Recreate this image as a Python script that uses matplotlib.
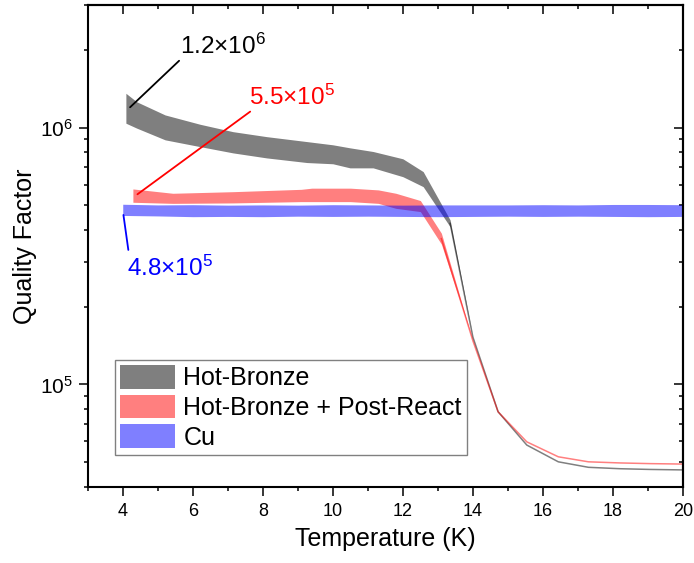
import numpy as np
import matplotlib
matplotlib.use("Agg")
import matplotlib.pyplot as plt
from matplotlib.patches import Patch
from matplotlib.ticker import LogLocator, NullFormatter, FixedLocator

plt.rcParams['font.family'] = ['Liberation Sans', 'DejaVu Sans']
plt.rcParams['mathtext.fontset'] = 'custom'
plt.rcParams['mathtext.rm'] = 'Liberation Sans'
plt.rcParams['mathtext.it'] = 'Liberation Sans:italic'
plt.rcParams['mathtext.bf'] = 'Liberation Sans:bold'

# Hot-Bronze: temperature (K) and quality-factor band (lower / upper)
T_hb = [4.09, 4.40, 5.21, 6.21, 7.15, 8.11, 9.26, 10.0, 10.49, 11.15, 12.0, 12.58, 13.35,
        14.0, 14.72, 15.54, 16.44, 17.3, 18.2, 19.05, 20.0]
Q_hb_hi = [1.36e6, 1.26e6, 1.12e6, 1.03e6, 9.64e5, 9.22e5, 8.82e5, 8.57e5, 8.34e5, 8.07e5, 7.56e5, 6.74e5, 4.37e5,
           1.53e5, 7.83e4, 5.81e4, 5.00e4, 4.76e4, 4.70e4, 4.67e4, 4.65e4]
Q_hb_lo = [1.04e6, 9.95e5, 8.96e5, 8.43e5, 7.97e5, 7.62e5, 7.31e5, 7.23e5, 6.97e5, 6.97e5, 6.44e5, 5.89e5, 4.11e5,
           1.53e5, 7.83e4, 5.81e4, 5.00e4, 4.76e4, 4.70e4, 4.67e4, 4.65e4]

# Hot-Bronze + Post-React
T_pr = [4.29, 5.43, 7.15, 9.1, 9.4, 10.5, 11.3, 11.8, 12.5, 13.1,
        14.0, 14.72, 15.54, 16.44, 17.3, 18.2, 19.05, 20.0]
Q_pr_hi = [5.77e5, 5.55e5, 5.63e5, 5.75e5, 5.81e5, 5.81e5, 5.72e5, 5.55e5, 5.20e5, 3.88e5,
           1.48e5, 7.83e4, 5.98e4, 5.23e4, 5.00e4, 4.95e4, 4.92e4, 4.90e4]
Q_pr_lo = [5.12e5, 5.07e5, 5.09e5, 5.15e5, 5.15e5, 5.15e5, 5.07e5, 4.85e5, 4.71e5, 3.52e5,
           1.48e5, 7.83e4, 5.98e4, 5.23e4, 5.00e4, 4.95e4, 4.92e4, 4.90e4]

# Cu reference
T_cu = [4.0, 5.0, 6.0, 7.0, 8.0, 9.0, 10.0, 11.0, 12.0, 13.0, 14.0, 15.0, 16.0, 17.0, 18.0, 19.0, 20.0]
Q_cu_hi = [5.03e5, 5.00e5, 5.01e5, 4.99e5, 5.00e5, 4.99e5, 5.01e5, 5.00e5, 4.99e5, 5.00e5,
           5.00e5, 5.00e5, 5.01e5, 5.00e5, 5.02e5, 5.02e5, 5.01e5]
Q_cu_lo = [4.55e5, 4.53e5, 4.50e5, 4.51e5, 4.50e5, 4.52e5, 4.51e5, 4.52e5, 4.51e5, 4.50e5,
           4.51e5, 4.52e5, 4.51e5, 4.52e5, 4.51e5, 4.50e5, 4.51e5]

labels = ['Hot-Bronze', 'Hot-Bronze + Post-React', 'Cu']
colors = ['black', 'red', 'blue']

# low-temperature quality factors quoted next to each band
Q_label_hb = 1.2e6
Q_label_pr = 5.5e5
Q_label_cu = 4.8e5

fig = plt.figure(figsize=(6.94, 5.63), dpi=100)
ax = fig.add_axes([0.1264, 0.1355, 0.8577, 0.8556])
ax.set_yscale('log')


def draw_band(T, lo, hi, color):
    T = np.asarray(T)
    lo = np.asarray(lo)
    hi = np.asarray(hi)
    ax.fill_between(T, lo, hi, color=color, alpha=0.5, lw=0)
    thin = np.isclose(lo, hi)
    if thin.any():
        start = max(int(np.argmax(thin)) - 1, 0)
        mid = np.sqrt(lo * hi)
        ax.plot(T[start:], mid[start:], color=color, alpha=0.5, lw=1.1,
                solid_joinstyle='round')


draw_band(T_hb, Q_hb_lo, Q_hb_hi, colors[0])
draw_band(T_pr, Q_pr_lo, Q_pr_hi, colors[1])
draw_band(T_cu, Q_cu_lo, Q_cu_hi, colors[2])

ax.set_xlim(3, 20)
ax.set_ylim(4.0e4, 3.0e6)

# value call-outs
ann_fs = 17.5
line_kw = dict(arrowstyle='-', lw=1.3, shrinkA=0, shrinkB=0)
ax.annotate('', xy=(4.21, Q_label_hb), xytext=(5.61, 1.82e6),
            arrowprops=dict(color='black', **line_kw))
ax.text(5.64, 2.07e6, '1.2×10$^{6}$', color='black', fontsize=ann_fs, ha='left', va='center')

ax.annotate('', xy=(4.42, Q_label_pr), xytext=(7.64, 1.154e6),
            arrowprops=dict(color='red', **line_kw))
ax.text(7.62, 1.31e6, '5.5×10$^{5}$', color='red', fontsize=ann_fs, ha='left', va='center')

ax.annotate('', xy=(4.02, 4.57e5), xytext=(4.16, 3.34e5),
            arrowprops=dict(color='blue', **line_kw))
ax.text(4.13, 2.84e5, '4.8×10$^{5}$', color='blue', fontsize=ann_fs, ha='left', va='center')

# axes styling
for s in ax.spines.values():
    s.set_linewidth(1.5)

ax.xaxis.set_major_locator(FixedLocator(np.arange(4, 21, 2)))
ax.xaxis.set_minor_locator(FixedLocator(np.arange(3, 20, 2)))
ax.yaxis.set_major_locator(LogLocator(base=10, numticks=10))
ax.yaxis.set_minor_locator(LogLocator(base=10, subs=np.arange(2, 10), numticks=20))
ax.yaxis.set_minor_formatter(NullFormatter())

ax.tick_params(which='major', direction='out', length=6.5, width=1.1, labelsize=13, pad=4)
ax.tick_params(which='minor', direction='out', length=3.2, width=1.1)
ax.tick_params(axis='y', which='major', labelsize=15)
ax.tick_params(axis='x', which='major', pad=5)

secx = ax.secondary_xaxis('top')
secx.xaxis.set_major_locator(FixedLocator(np.arange(4, 21, 2)))
secx.xaxis.set_minor_locator(FixedLocator(np.arange(3, 20, 2)))
secx.tick_params(which='major', direction='in', length=6.5, width=1.1, labeltop=False)
secx.tick_params(which='minor', direction='in', length=3.2, width=1.1)
secx.spines['top'].set_linewidth(1.5)

secy = ax.secondary_yaxis('right')
secy.yaxis.set_major_locator(LogLocator(base=10, numticks=10))
secy.yaxis.set_minor_locator(LogLocator(base=10, subs=np.arange(2, 10), numticks=20))
secy.yaxis.set_minor_formatter(NullFormatter())
secy.tick_params(which='major', direction='in', length=6.5, width=1.1, labelright=False)
secy.tick_params(which='minor', direction='in', length=3.2, width=1.1)
secy.spines['right'].set_linewidth(1.5)

ax.set_xlabel('Temperature (K)', fontsize=18, labelpad=5)
ax.set_ylabel('Quality Factor', fontsize=18, labelpad=2)

handles = [Patch(facecolor=c, alpha=0.5, edgecolor='none') for c in colors]
leg = ax.legend(handles, labels, loc='upper left', bbox_to_anchor=(0.0459, 0.263),
                borderaxespad=0, fontsize=18, fancybox=False, framealpha=1,
                edgecolor='#808080', handlelength=2.2, handleheight=1.08,
                labelspacing=0.17, handletextpad=0.33, borderpad=0.2)
leg.get_frame().set_linewidth(1.0)

fig.savefig('out.png', dpi=100)
